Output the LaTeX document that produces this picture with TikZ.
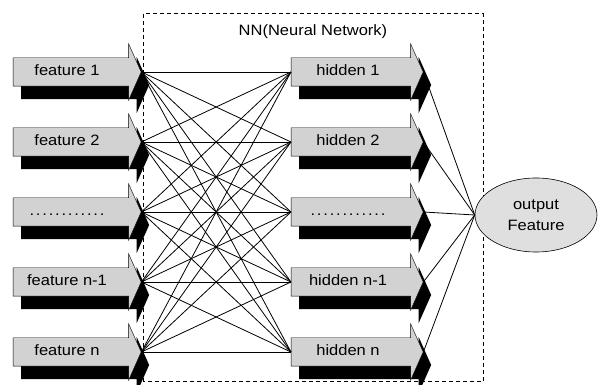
\documentclass[tikz,border=0pt]{standalone}
\usepackage{fontspec}
\setmainfont{Liberation Sans}[FakeStretch=1.1]
\usetikzlibrary{shapes.arrows,shapes.geometric,shadows}

\newcommand{\dotrow}{{\addfontfeature{LetterSpace=12}............}}

\begin{document}
\begin{tikzpicture}[x=1pt,y=1pt,font=\fontsize{15}{21}\selectfont]
    \tikzstyle{boxarrow} = [single arrow, draw, thin, fill=gray!35, text height=11pt, text depth=3pt,
        inner xsep=2pt, inner ysep=7pt, single arrow head extend=14pt, single arrow tip angle=132,
        single arrow head indent=0pt, drop shadow={shadow xshift=8pt, shadow yshift=-13pt, fill=black, opacity=1}]
    \tikzstyle{link} = [black, line width=0.8pt]
    \useasboundingbox (0,0) rectangle (602,385);
    \draw[line width=1pt, dash pattern=on 4pt off 3pt] (143,3) rectangle (483,371);
    \node (nn) at (313,353) {NN(Neural Network)};
    \foreach \i/\y/\ftext/\htext in {1/313/feature 1/hidden 1, 2/243/feature 2/hidden 2,
        3/173/{\dotrow}/{\dotrow}, 4/103/feature n-1/hidden n-1, 5/33/feature n/hidden n} {
        \node[boxarrow, minimum height=128pt, execute at end node={\hspace*{14pt}}] (f\i) at (74,\y) {\ftext};
        \node[boxarrow, minimum height=132pt, execute at end node={\hspace*{12pt}}] (h\i) at (354,\y) {\htext};
    }
    \node[ellipse, draw, semithick, fill=gray!25, minimum width=122pt, minimum height=74pt, align=center, inner sep=0pt] (out) at (536,170) {output\\Feature};
    \foreach \i in {1,...,5} {
        \foreach \j in {1,...,5} {
            \draw[link] (f\i.tip) -- (h\j.tail);
        }
        \draw[link] (h\i.tip) -- (out.west);
    }
\end{tikzpicture}
\end{document}
